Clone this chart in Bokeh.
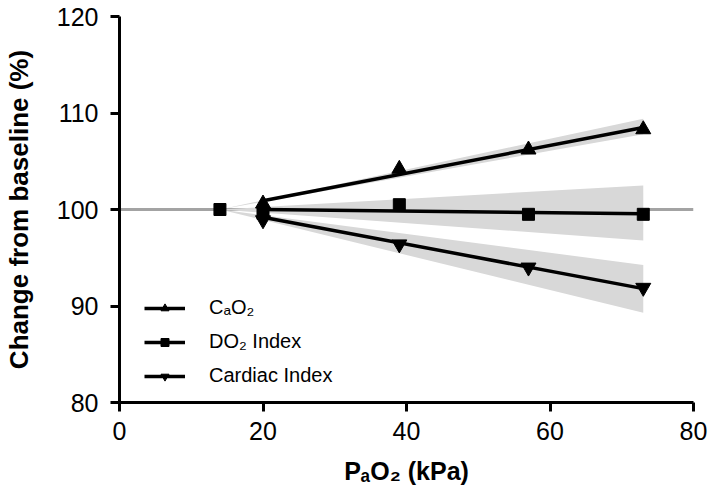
from bokeh.plotting import figure
from bokeh.models import Span, Legend, LegendItem, FixedTicker
from bokeh.embed import file_html
from bokeh.resources import INLINE

# measured points (PaO2 kPa, % of baseline)
pao2 = [14, 20, 39, 57, 73]
cao2 = [100.0, 100.6, 104.2, 106.2, 108.3]
do2 = [100.0, 99.6, 100.5, 99.5, 99.5]
ci = [100.0, 98.9, 96.4, 94.0, 91.9]

# regression lines
fit_x = [20, 73]
cao2_fit = [100.9, 108.5]
do2_fit = [100.0, 99.55]
ci_fit = [99.2, 91.8]

# confidence bands
band_x = [14, 73]
cao2_lo = [100.0, 107.8]
cao2_hi = [100.0, 109.4]
do2_lo = [100.0, 96.8]
do2_hi = [100.0, 102.5]
ci_lo = [100.0, 89.3]
ci_hi = [100.0, 94.25]

x_ticks = [0, 20, 40, 60, 80]
y_ticks = [80, 90, 100, 110, 120]
baseline = 100

FONT = "Liberation Sans"

p = figure(width=709, height=498, x_range=(0, 80), y_range=(80, 120),
           output_backend="svg", toolbar_location=None,
           min_border_left=114, min_border_right=16, min_border_top=16,
           min_border_bottom=96)
p.outline_line_color = None
p.grid.visible = False
p.background_fill_color = "white"

band_color = "#d8d8d8"
p.varea(x=band_x, y1=cao2_lo, y2=cao2_hi, fill_color=band_color)
p.varea(x=band_x, y1=do2_lo, y2=do2_hi, fill_color=band_color)
p.varea(x=band_x, y1=ci_lo, y2=ci_hi, fill_color=band_color)

span = Span(location=baseline, dimension="width", line_color="#a3a3a3",
            line_width=3, level="underlay")
p.add_layout(span)

lw = 3.5
l1 = p.line(fit_x, cao2_fit, line_color="black", line_width=lw)
l2 = p.line(fit_x, do2_fit, line_color="black", line_width=lw)
l3 = p.line(fit_x, ci_fit, line_color="black", line_width=lw)

s2 = p.scatter(pao2, do2, marker="square", size=12, color="black")
s1 = p.scatter(pao2[1:], cao2[1:], marker="triangle", size=15, color="black")
s3 = p.scatter(pao2[1:], ci[1:], marker="inverted_triangle", size=15, color="black")

for ax in (p.xaxis[0], p.yaxis[0]):
    ax.axis_line_width = 3
    ax.axis_line_color = "black"
    ax.major_tick_line_width = 3
    ax.major_tick_line_color = "black"
    ax.major_tick_out = 9
    ax.major_tick_in = 0
    ax.minor_tick_line_color = None
    ax.major_label_text_font = FONT
    ax.major_label_text_font_size = "25px"
    ax.major_label_text_color = "black"
    ax.axis_label_text_font = FONT
    ax.axis_label_text_font_style = "bold"
    ax.axis_label_text_color = "black"

p.xaxis[0].ticker = FixedTicker(ticks=x_ticks)
p.yaxis[0].ticker = FixedTicker(ticks=y_ticks)
p.xaxis[0].axis_label = "PₐO₂ (kPa)"
p.xaxis[0].axis_label_text_font_size = "25px"
p.xaxis[0].major_label_standoff = 10
p.xaxis[0].axis_label_standoff = 14
p.yaxis[0].axis_label = "Change from baseline (%)"
p.yaxis[0].axis_label_text_font_size = "26px"
p.yaxis[0].major_label_standoff = 12
p.yaxis[0].axis_label_standoff = 20

legend = Legend(items=[
    LegendItem(label="CₐO₂", renderers=[l1, s1]),
    LegendItem(label="DO₂ Index", renderers=[l2, s2]),
    LegendItem(label="Cardiac Index", renderers=[l3, s3]),
], location=(25, 15), orientation="vertical")
legend.margin = 0
legend.padding = 0
legend.border_line_color = None
legend.background_fill_alpha = 0
legend.glyph_width = 41
legend.glyph_height = 20
legend.label_height = 20
legend.spacing = 11
legend.label_standoff = 24
legend.label_text_font = FONT
legend.label_text_font_size = "20px"
legend.label_text_color = "black"
p.add_layout(legend)

open("out.html", "w").write(file_html(p, INLINE))
